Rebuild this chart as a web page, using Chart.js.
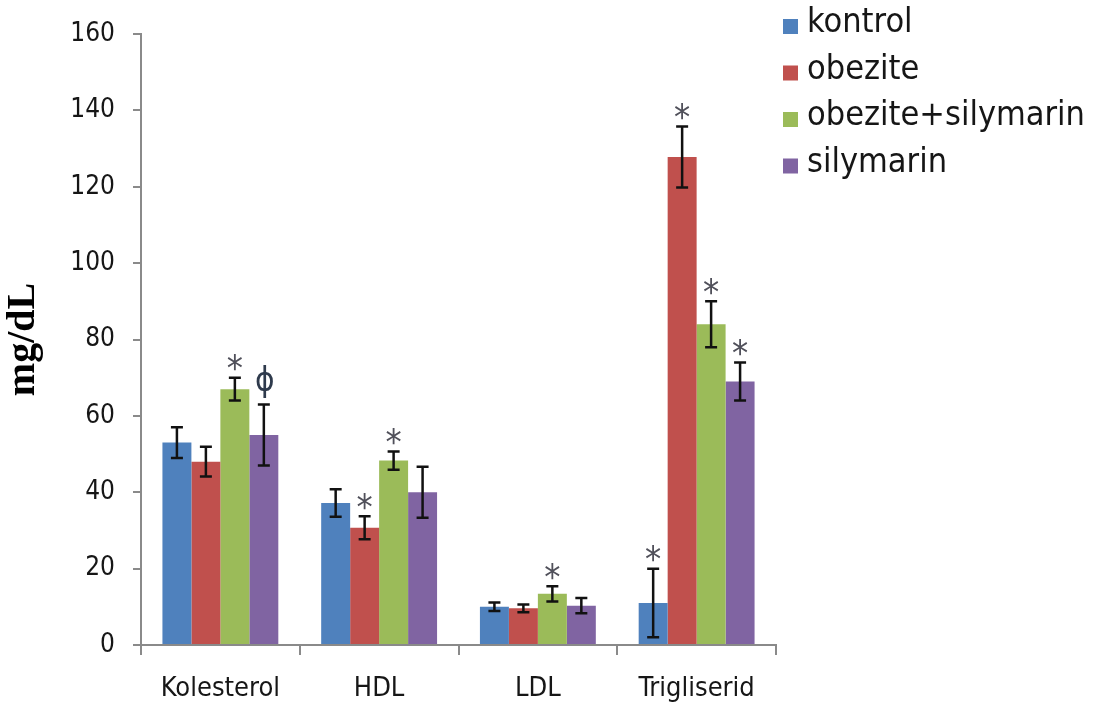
<!DOCTYPE html>
<html>
<head>
<meta charset="utf-8">
<script src="https://cdn.jsdelivr.net/npm/chart.js@4.4.1/dist/chart.umd.min.js"></script>
<style>
  html, body { margin: 0; padding: 0; background: #ffffff; }
  #wrap { width: 1094px; height: 711px; }
</style>
</head>
<body>
<div id="wrap"><canvas id="c" width="1094" height="711"></canvas></div>
<script>
// Lipid profile per group (mg/dL), mean and error
const categories = ['Kolesterol', 'HDL', 'LDL', 'Trigliserid'];
const seriesNames = ['kontrol', 'obezite', 'obezite+silymarin', 'silymarin'];

const kontrol = [53, 37.2, 10, 11];
const obezite = [48, 30.7, 9.6, 127.8];
const obeziteSilymarin = [67, 48.3, 13.4, 84];
const silymarin = [55, 40, 10.3, 69];

const kontrolErr = [4, 3.6, 1.1, 9];
const obeziteErr = [3.9, 3, 1, 8];
const obeziteSilymarinErr = [3, 2.4, 2, 6];
const silymarinErr = [8, 6.7, 2, 5];

// significance marks printed above the error bars
const kontrolMarks = ['', '', '', '*'];
const obeziteMarks = ['', '*', '', '*'];
const obeziteSilymarinMarks = ['*', '*', '*', '*'];
const silymarinMarks = ['\u03D5', '', '', '*'];

const yTicks = [0, 20, 40, 60, 80, 100, 120, 140, 160];

const seriesColors = ['#4F81BD', '#C0504D', '#9BBB59', '#8064A2'];
const SANS = '"DejaVu Sans Condensed", "DejaVu Sans", sans-serif';
const AXIS_GREY = '#8a8a8a';

const values = [kontrol, obezite, obeziteSilymarin, silymarin];
const errors = [kontrolErr, obeziteErr, obeziteSilymarinErr, silymarinErr];
const marks = [kontrolMarks, obeziteMarks, obeziteSilymarinMarks, silymarinMarks];

const datasets = seriesNames.map((name, i) => ({
  label: name,
  data: values[i],
  errors: errors[i],
  marks: marks[i],
  backgroundColor: seriesColors[i],
  borderWidth: 0
}));

// Error bars with caps, plus the significance symbols above them
const errorBarPlugin = {
  id: 'errorBars',
  afterDatasetsDraw(chart) {
    const ctx = chart.ctx;
    const yScale = chart.scales.y;
    ctx.save();
    chart.data.datasets.forEach((ds, di) => {
      const meta = chart.getDatasetMeta(di);
      meta.data.forEach((bar, j) => {
        const v = ds.data[j];
        const e = ds.errors[j];
        const x = bar.x;
        const yTop = yScale.getPixelForValue(v + e);
        const yBot = yScale.getPixelForValue(Math.max(v - e, 0));
        ctx.strokeStyle = '#111111';
        ctx.lineWidth = 2.5;
        ctx.beginPath();
        ctx.moveTo(x, yTop); ctx.lineTo(x, yBot);
        ctx.moveTo(x - 6, yTop); ctx.lineTo(x + 6, yTop);
        ctx.moveTo(x - 6, yBot); ctx.lineTo(x + 6, yBot);
        ctx.stroke();
        const m = ds.marks[j];
        if (m) {
          ctx.textAlign = 'center';
          ctx.textBaseline = 'middle';
          if (m === '*') {
            ctx.font = '36px ' + SANS;
            ctx.fillStyle = '#50505a';
            ctx.fillText(m, x, yTop - 7);
          } else {
            ctx.font = '33px ' + SANS;
            ctx.fillStyle = '#2e3a4c';
            ctx.fillText(m, x + 1, yTop - 22);
          }
        }
      });
    });
    ctx.restore();
  }
};

// Legend column at the top right, built from the datasets
const sideLegendPlugin = {
  id: 'sideLegend',
  afterDraw(chart) {
    const ctx = chart.ctx;
    ctx.save();
    ctx.font = '34px ' + SANS;
    ctx.textAlign = 'left';
    ctx.textBaseline = 'alphabetic';
    chart.data.datasets.forEach((ds, i) => {
      const base = 32 + i * 46.5;
      ctx.fillStyle = ds.backgroundColor;
      ctx.fillRect(783, base - 13, 15, 15);
      ctx.fillStyle = '#161616';
      ctx.fillText(ds.label, 807, base);
    });
    ctx.restore();
  }
};

new Chart(document.getElementById('c'), {
  type: 'bar',
  data: { labels: categories, datasets },
  plugins: [errorBarPlugin, sideLegendPlugin],
  options: {
    responsive: false,
    animation: false,
    devicePixelRatio: 1,
    layout: { padding: { left: 0, top: 0, right: 318, bottom: 4 } },
    datasets: { bar: { categoryPercentage: 0.73, barPercentage: 1.0 } },
    plugins: { legend: { display: false }, tooltip: { enabled: false } },
    scales: {
      x: {
        grid: { offset: true, drawOnChartArea: false, drawTicks: true, tickLength: 10, color: AXIS_GREY, lineWidth: 2 },
        border: { color: AXIS_GREY, width: 2 },
        ticks: { font: { family: SANS, size: 27 }, color: '#161616', padding: 18 },
        afterFit(s) { s.height = 711 - 4 - 645; }
      },
      y: {
        min: 0,
        max: 160,
        afterBuildTicks(s) { s.ticks = yTicks.map(v => ({ value: v })); },
        ticks: { font: { family: SANS, size: 26 }, color: '#161616', padding: 18 },
        grid: { drawOnChartArea: false, drawTicks: true, tickLength: 8, color: AXIS_GREY, lineWidth: 2 },
        border: { color: AXIS_GREY, width: 2 },
        title: {
          display: true,
          text: 'mg/dL',
          font: { family: '"Liberation Serif", serif', weight: 'bold', size: 40 },
          color: '#000000',
          padding: { top: 0, bottom: 0 }
        },
        afterFit(s) { s.width = 141; s.paddingTop = 34; }
      }
    }
  }
});
</script>
</body>
</html>
